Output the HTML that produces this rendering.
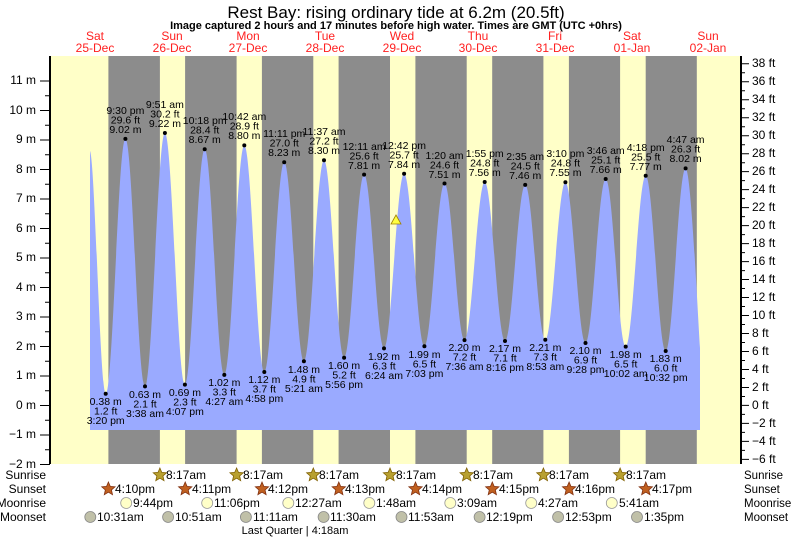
<!DOCTYPE html>
<html><head><meta charset="utf-8"><style>
body{margin:0;background:#fff}
svg{display:block;font-family:"Liberation Sans",sans-serif}
.l{font-size:10.5px;fill:#000;text-anchor:middle}
.ax{font-size:12px;fill:#000}
.r{font-size:12px;fill:#000}
</style></head><body>
<svg width="793" height="537" viewBox="0 0 793 537" xmlns="http://www.w3.org/2000/svg" xmlns:xlink="http://www.w3.org/1999/xlink">
<defs>
<polygon id="st" points="0,-7 1.88,-2.59 6.66,-2.16 3.04,0.99 4.11,5.66 0,3.2 -4.11,5.66 -3.04,0.99 -6.66,-2.16 -1.88,-2.59" stroke-width="0.8"/>
</defs>
<rect x="50" y="56" width="691" height="408" fill="#ffffc8"/>
<g fill="#8c8c8c">
<rect x="108.4" y="56" width="51.5" height="408"/>
<rect x="185.1" y="56" width="51.5" height="408"/>
<rect x="261.9" y="56" width="51.4" height="408"/>
<rect x="338.6" y="56" width="51.4" height="408"/>
<rect x="415.4" y="56" width="51.3" height="408"/>
<rect x="492.2" y="56" width="51.2" height="408"/>
<rect x="568.9" y="56" width="51.2" height="408"/>
<rect x="645.7" y="56" width="51.1" height="408"/>
</g>
<path fill="#9aaaff" d="M90,430 L90,151 C95,160 100,393.8 105.7,393.8
C113,393.8 118.1,138.9 125.4,138.9
C132.7,138.9 137.7,386.4 145,386.4
C152.3,386.4 157.6,133 164.9,133
C172.2,133 177.6,384.6 184.9,384.6
C192.2,384.6 197.4,149.2 204.7,149.2
C212,149.2 217,374.9 224.3,374.9
C231.6,374.9 237,145.4 244.3,145.4
C251.6,145.4 257,372 264.3,372
C271.6,372 276.9,162.2 284.2,162.2
C291.5,162.2 296.6,361.3 303.9,361.3
C311.2,361.3 316.7,160.2 324,160.2
C331.3,160.2 336.8,357.8 344.1,357.8
C351.4,357.8 356.8,174.6 364.1,174.6
C371.4,174.6 376.7,348.4 384,348.4
C391.3,348.4 396.8,173.7 404.1,173.7
C411.4,173.7 417.1,346.3 424.4,346.3
C431.7,346.3 437.2,183.5 444.5,183.5
C451.8,183.5 457.2,340.1 464.5,340.1
C471.8,340.1 477.4,182 484.7,182
C492,182 497.7,341 505,341
C512.3,341 517.9,184.9 525.2,184.9
C532.5,184.9 538,339.8 545.3,339.8
C552.6,339.8 558.1,182.3 565.4,182.3
C572.7,182.3 578.2,343 585.5,343
C592.8,343 598.4,179 605.7,179
C613,179 618.4,346.6 625.7,346.6
C633,346.6 638.4,175.8 645.7,175.8
C653,175.8 658.4,351 665.7,351
C673,351 678.3,168.4 685.6,168.4
C690.8,168.4 697,300 700,348 L700,430 Z"/>
<g stroke="#000" fill="none">
<line x1="45" y1="80.5" x2="45" y2="465" stroke-width="10" stroke-dasharray="1 28.5"/>
<line x1="47.5" y1="95.25" x2="47.5" y2="465" stroke-width="5" stroke-dasharray="1 28.5"/>
<line x1="745" y1="63.3" x2="745" y2="460" stroke-width="8" stroke-dasharray="1 16.98"/>
<line x1="743" y1="72.3" x2="743" y2="460" stroke-width="4" stroke-dasharray="1 16.98"/>
</g>
<line x1="50" y1="56" x2="50" y2="464" stroke="#000" stroke-width="2"/>
<line x1="741" y1="56" x2="741" y2="464" stroke="#000" stroke-width="2"/>
<text x="396" y="18" font-size="17" text-anchor="middle">Rest Bay: rising  ordinary tide at 6.2m (20.5ft)</text>
<text x="396" y="29" font-size="11" font-weight="bold" text-anchor="middle">Image captured 2 hours and 17 minutes before high water. Times are GMT (UTC +0hrs)</text>
<g font-size="12" fill="#ff2020" text-anchor="middle">
<text x="95" y="40">Sat</text><text x="95" y="52">25‑Dec</text>
<text x="172" y="40">Sun</text><text x="172" y="52">26‑Dec</text>
<text x="248" y="40">Mon</text><text x="248" y="52">27‑Dec</text>
<text x="325" y="40">Tue</text><text x="325" y="52">28‑Dec</text>
<text x="402" y="40">Wed</text><text x="402" y="52">29‑Dec</text>
<text x="478" y="40">Thu</text><text x="478" y="52">30‑Dec</text>
<text x="555" y="40">Fri</text><text x="555" y="52">31‑Dec</text>
<text x="632" y="40">Sat</text><text x="632" y="52">01‑Jan</text>
<text x="708" y="40">Sun</text><text x="708" y="52">02‑Jan</text>
</g>
<g class="ax" text-anchor="end">
<text x="36" y="84">11 m</text><text x="36" y="114">10 m</text><text x="36" y="143">9 m</text><text x="36" y="173">8 m</text><text x="36" y="202">7 m</text><text x="36" y="232">6 m</text><text x="36" y="261">5 m</text><text x="36" y="291">4 m</text><text x="36" y="320">3 m</text><text x="36" y="350">2 m</text><text x="36" y="379">1 m</text><text x="36" y="409">0 m</text><text x="36" y="438">−1 m</text><text x="36" y="468">−2 m</text>
</g>
<g class="ax">
<text x="752" y="67">38 ft</text><text x="752" y="85">36 ft</text><text x="752" y="103">34 ft</text><text x="752" y="121">32 ft</text><text x="752" y="139">30 ft</text><text x="752" y="157">28 ft</text><text x="752" y="175">26 ft</text><text x="752" y="193">24 ft</text><text x="752" y="211">22 ft</text><text x="752" y="229">20 ft</text><text x="752" y="247">18 ft</text><text x="752" y="265">16 ft</text><text x="752" y="283">14 ft</text><text x="752" y="301">12 ft</text><text x="752" y="319">10 ft</text><text x="752" y="337">8 ft</text><text x="752" y="355">6 ft</text><text x="752" y="373">4 ft</text><text x="752" y="391">2 ft</text><text x="752" y="409">0 ft</text><text x="752" y="427">−2 ft</text><text x="752" y="445">−4 ft</text><text x="752" y="463">−6 ft</text>
</g>
<g fill="#000">
<circle cx="125.4" cy="138.9" r="2"/><circle cx="164.9" cy="133" r="2"/><circle cx="204.7" cy="149.2" r="2"/><circle cx="244.3" cy="145.4" r="2"/><circle cx="284.2" cy="162.2" r="2"/><circle cx="324" cy="160.2" r="2"/><circle cx="364.1" cy="174.6" r="2"/><circle cx="404.1" cy="173.7" r="2"/><circle cx="444.5" cy="183.5" r="2"/><circle cx="484.7" cy="182" r="2"/><circle cx="525.2" cy="184.9" r="2"/><circle cx="565.4" cy="182.3" r="2"/><circle cx="605.7" cy="179" r="2"/><circle cx="645.7" cy="175.8" r="2"/><circle cx="685.6" cy="168.4" r="2"/>
<circle cx="105.7" cy="393.8" r="2"/><circle cx="145" cy="386.4" r="2"/><circle cx="184.9" cy="384.6" r="2"/><circle cx="224.3" cy="374.9" r="2"/><circle cx="264.3" cy="372" r="2"/><circle cx="303.9" cy="361.3" r="2"/><circle cx="344.1" cy="357.8" r="2"/><circle cx="384" cy="348.4" r="2"/><circle cx="424.4" cy="346.3" r="2"/><circle cx="464.5" cy="340.1" r="2"/><circle cx="505" cy="341" r="2"/><circle cx="545.3" cy="339.8" r="2"/><circle cx="585.5" cy="343" r="2"/><circle cx="625.7" cy="346.6" r="2"/><circle cx="665.7" cy="351" r="2"/>
</g>
<g class="l">
<text x="125.4" y="114">9:30 pm</text><text x="125.4" y="123.5">29.6 ft</text><text x="125.4" y="133">9.02 m</text>
<text x="164.9" y="108">9:51 am</text><text x="164.9" y="117.5">30.2 ft</text><text x="164.9" y="127">9.22 m</text>
<text x="204.7" y="124">10:18 pm</text><text x="204.7" y="133.5">28.4 ft</text><text x="204.7" y="143">8.67 m</text>
<text x="244.3" y="120">10:42 am</text><text x="244.3" y="129.5">28.9 ft</text><text x="244.3" y="139">8.80 m</text>
<text x="284.2" y="137">11:11 pm</text><text x="284.2" y="146.5">27.0 ft</text><text x="284.2" y="156">8.23 m</text>
<text x="324" y="135">11:37 am</text><text x="324" y="144.5">27.2 ft</text><text x="324" y="154">8.30 m</text>
<text x="364.1" y="150">12:11 am</text><text x="364.1" y="159.5">25.6 ft</text><text x="364.1" y="169">7.81 m</text>
<text x="404.1" y="149">12:42 pm</text><text x="404.1" y="158.5">25.7 ft</text><text x="404.1" y="168">7.84 m</text>
<text x="444.5" y="159">1:20 am</text><text x="444.5" y="168.5">24.6 ft</text><text x="444.5" y="178">7.51 m</text>
<text x="484.7" y="157">1:55 pm</text><text x="484.7" y="166.5">24.8 ft</text><text x="484.7" y="176">7.56 m</text>
<text x="525.2" y="160">2:35 am</text><text x="525.2" y="169.5">24.5 ft</text><text x="525.2" y="179">7.46 m</text>
<text x="565.4" y="157">3:10 pm</text><text x="565.4" y="166.5">24.8 ft</text><text x="565.4" y="176">7.55 m</text>
<text x="605.7" y="154">3:46 am</text><text x="605.7" y="163.5">25.1 ft</text><text x="605.7" y="173">7.66 m</text>
<text x="645.7" y="151">4:18 pm</text><text x="645.7" y="160.5">25.5 ft</text><text x="645.7" y="170">7.77 m</text>
<text x="685.6" y="143">4:47 am</text><text x="685.6" y="152.5">26.3 ft</text><text x="685.6" y="162">8.02 m</text>
<text x="105.7" y="405">0.38 m</text><text x="105.7" y="414.5">1.2 ft</text><text x="105.7" y="424">3:20 pm</text>
<text x="145" y="398">0.63 m</text><text x="145" y="407.5">2.1 ft</text><text x="145" y="417">3:38 am</text>
<text x="184.9" y="396">0.69 m</text><text x="184.9" y="405.5">2.3 ft</text><text x="184.9" y="415">4:07 pm</text>
<text x="224.3" y="386">1.02 m</text><text x="224.3" y="395.5">3.3 ft</text><text x="224.3" y="405">4:27 am</text>
<text x="264.3" y="383">1.12 m</text><text x="264.3" y="392.5">3.7 ft</text><text x="264.3" y="402">4:58 pm</text>
<text x="303.9" y="373">1.48 m</text><text x="303.9" y="382.5">4.9 ft</text><text x="303.9" y="392">5:21 am</text>
<text x="344.1" y="369">1.60 m</text><text x="344.1" y="378.5">5.2 ft</text><text x="344.1" y="388">5:56 pm</text>
<text x="384" y="360">1.92 m</text><text x="384" y="369.5">6.3 ft</text><text x="384" y="379">6:24 am</text>
<text x="424.4" y="358">1.99 m</text><text x="424.4" y="367.5">6.5 ft</text><text x="424.4" y="377">7:03 pm</text>
<text x="464.5" y="351">2.20 m</text><text x="464.5" y="360.5">7.2 ft</text><text x="464.5" y="370">7:36 am</text>
<text x="505" y="352">2.17 m</text><text x="505" y="361.5">7.1 ft</text><text x="505" y="371">8:16 pm</text>
<text x="545.3" y="351">2.21 m</text><text x="545.3" y="360.5">7.3 ft</text><text x="545.3" y="370">8:53 am</text>
<text x="585.5" y="354">2.10 m</text><text x="585.5" y="363.5">6.9 ft</text><text x="585.5" y="373">9:28 pm</text>
<text x="625.7" y="358">1.98 m</text><text x="625.7" y="367.5">6.5 ft</text><text x="625.7" y="377">10:02 am</text>
<text x="665.7" y="362">1.83 m</text><text x="665.7" y="371.5">6.0 ft</text><text x="665.7" y="381">10:32 pm</text>
</g>
<polygon points="396,215 391,224 401,224" fill="#ffff40" stroke="#a08000" stroke-width="0.8"/>
<g class="r" text-anchor="end">
<text x="46" y="479">Sunrise</text><text x="46" y="493">Sunset</text><text x="46" y="507">Moonrise</text><text x="46" y="521">Moonset</text>
</g>
<g class="r" font-size="11.5" style="font-size:11.5px">
<text x="744" y="479">Sunrise</text><text x="744" y="493">Sunset</text><text x="744" y="507">Moonrise</text><text x="744" y="521">Moonset</text>
</g>
<g fill="#b8a030" stroke="#806000">
<use xlink:href="#st" x="159.9" y="475"/><use xlink:href="#st" x="236.6" y="475"/><use xlink:href="#st" x="313.3" y="475"/><use xlink:href="#st" x="390" y="475"/><use xlink:href="#st" x="466.7" y="475"/><use xlink:href="#st" x="543.4" y="475"/><use xlink:href="#st" x="620.1" y="475"/>
</g>
<g fill="#c06020" stroke="#803010">
<use xlink:href="#st" x="108.4" y="489"/><use xlink:href="#st" x="185.2" y="489"/><use xlink:href="#st" x="262" y="489"/><use xlink:href="#st" x="338.8" y="489"/><use xlink:href="#st" x="415.5" y="489"/><use xlink:href="#st" x="492.3" y="489"/><use xlink:href="#st" x="569.1" y="489"/><use xlink:href="#st" x="645.8" y="489"/>
</g>
<g fill="#ffffc8" stroke="#999" stroke-width="0.8">
<circle cx="126.2" cy="503" r="5.5"/><circle cx="207.2" cy="503" r="5.5"/><circle cx="288.3" cy="503" r="5.5"/><circle cx="369.3" cy="503" r="5.5"/><circle cx="450.3" cy="503" r="5.5"/><circle cx="531.2" cy="503" r="5.5"/><circle cx="611.8" cy="503" r="5.5"/>
</g>
<g fill="#c0c0a8" stroke="#888" stroke-width="0.8">
<circle cx="90.3" cy="517" r="5.5"/><circle cx="168.1" cy="517" r="5.5"/><circle cx="245.9" cy="517" r="5.5"/><circle cx="323.6" cy="517" r="5.5"/><circle cx="401.5" cy="517" r="5.5"/><circle cx="479.6" cy="517" r="5.5"/><circle cx="558.1" cy="517" r="5.5"/><circle cx="637" cy="517" r="5.5"/>
</g>
<g class="r" font-size="11.5">
<text x="166" y="479">8:17am</text><text x="243" y="479">8:17am</text><text x="319" y="479">8:17am</text><text x="396" y="479">8:17am</text><text x="473" y="479">8:17am</text><text x="549" y="479">8:17am</text><text x="626" y="479">8:17am</text>
<text x="115" y="493">4:10pm</text><text x="192" y="493">4:11pm</text><text x="268" y="493">4:12pm</text><text x="345" y="493">4:13pm</text><text x="422" y="493">4:14pm</text><text x="499" y="493">4:15pm</text><text x="575" y="493">4:16pm</text><text x="652" y="493">4:17pm</text>
<text x="133" y="507">9:44pm</text><text x="214" y="507">11:06pm</text><text x="295" y="507">12:27am</text><text x="376" y="507">1:48am</text><text x="457" y="507">3:09am</text><text x="538" y="507">4:27am</text><text x="619" y="507">5:41am</text>
<text x="97" y="521">10:31am</text><text x="175" y="521">10:51am</text><text x="253" y="521">11:11am</text><text x="330" y="521">11:30am</text><text x="408" y="521">11:53am</text><text x="486" y="521">12:19pm</text><text x="565" y="521">12:53pm</text><text x="644" y="521">1:35pm</text>
<text x="295" y="534" text-anchor="middle" font-size="11">Last Quarter | 4:18am</text>
</g>
</svg>
</body></html>
